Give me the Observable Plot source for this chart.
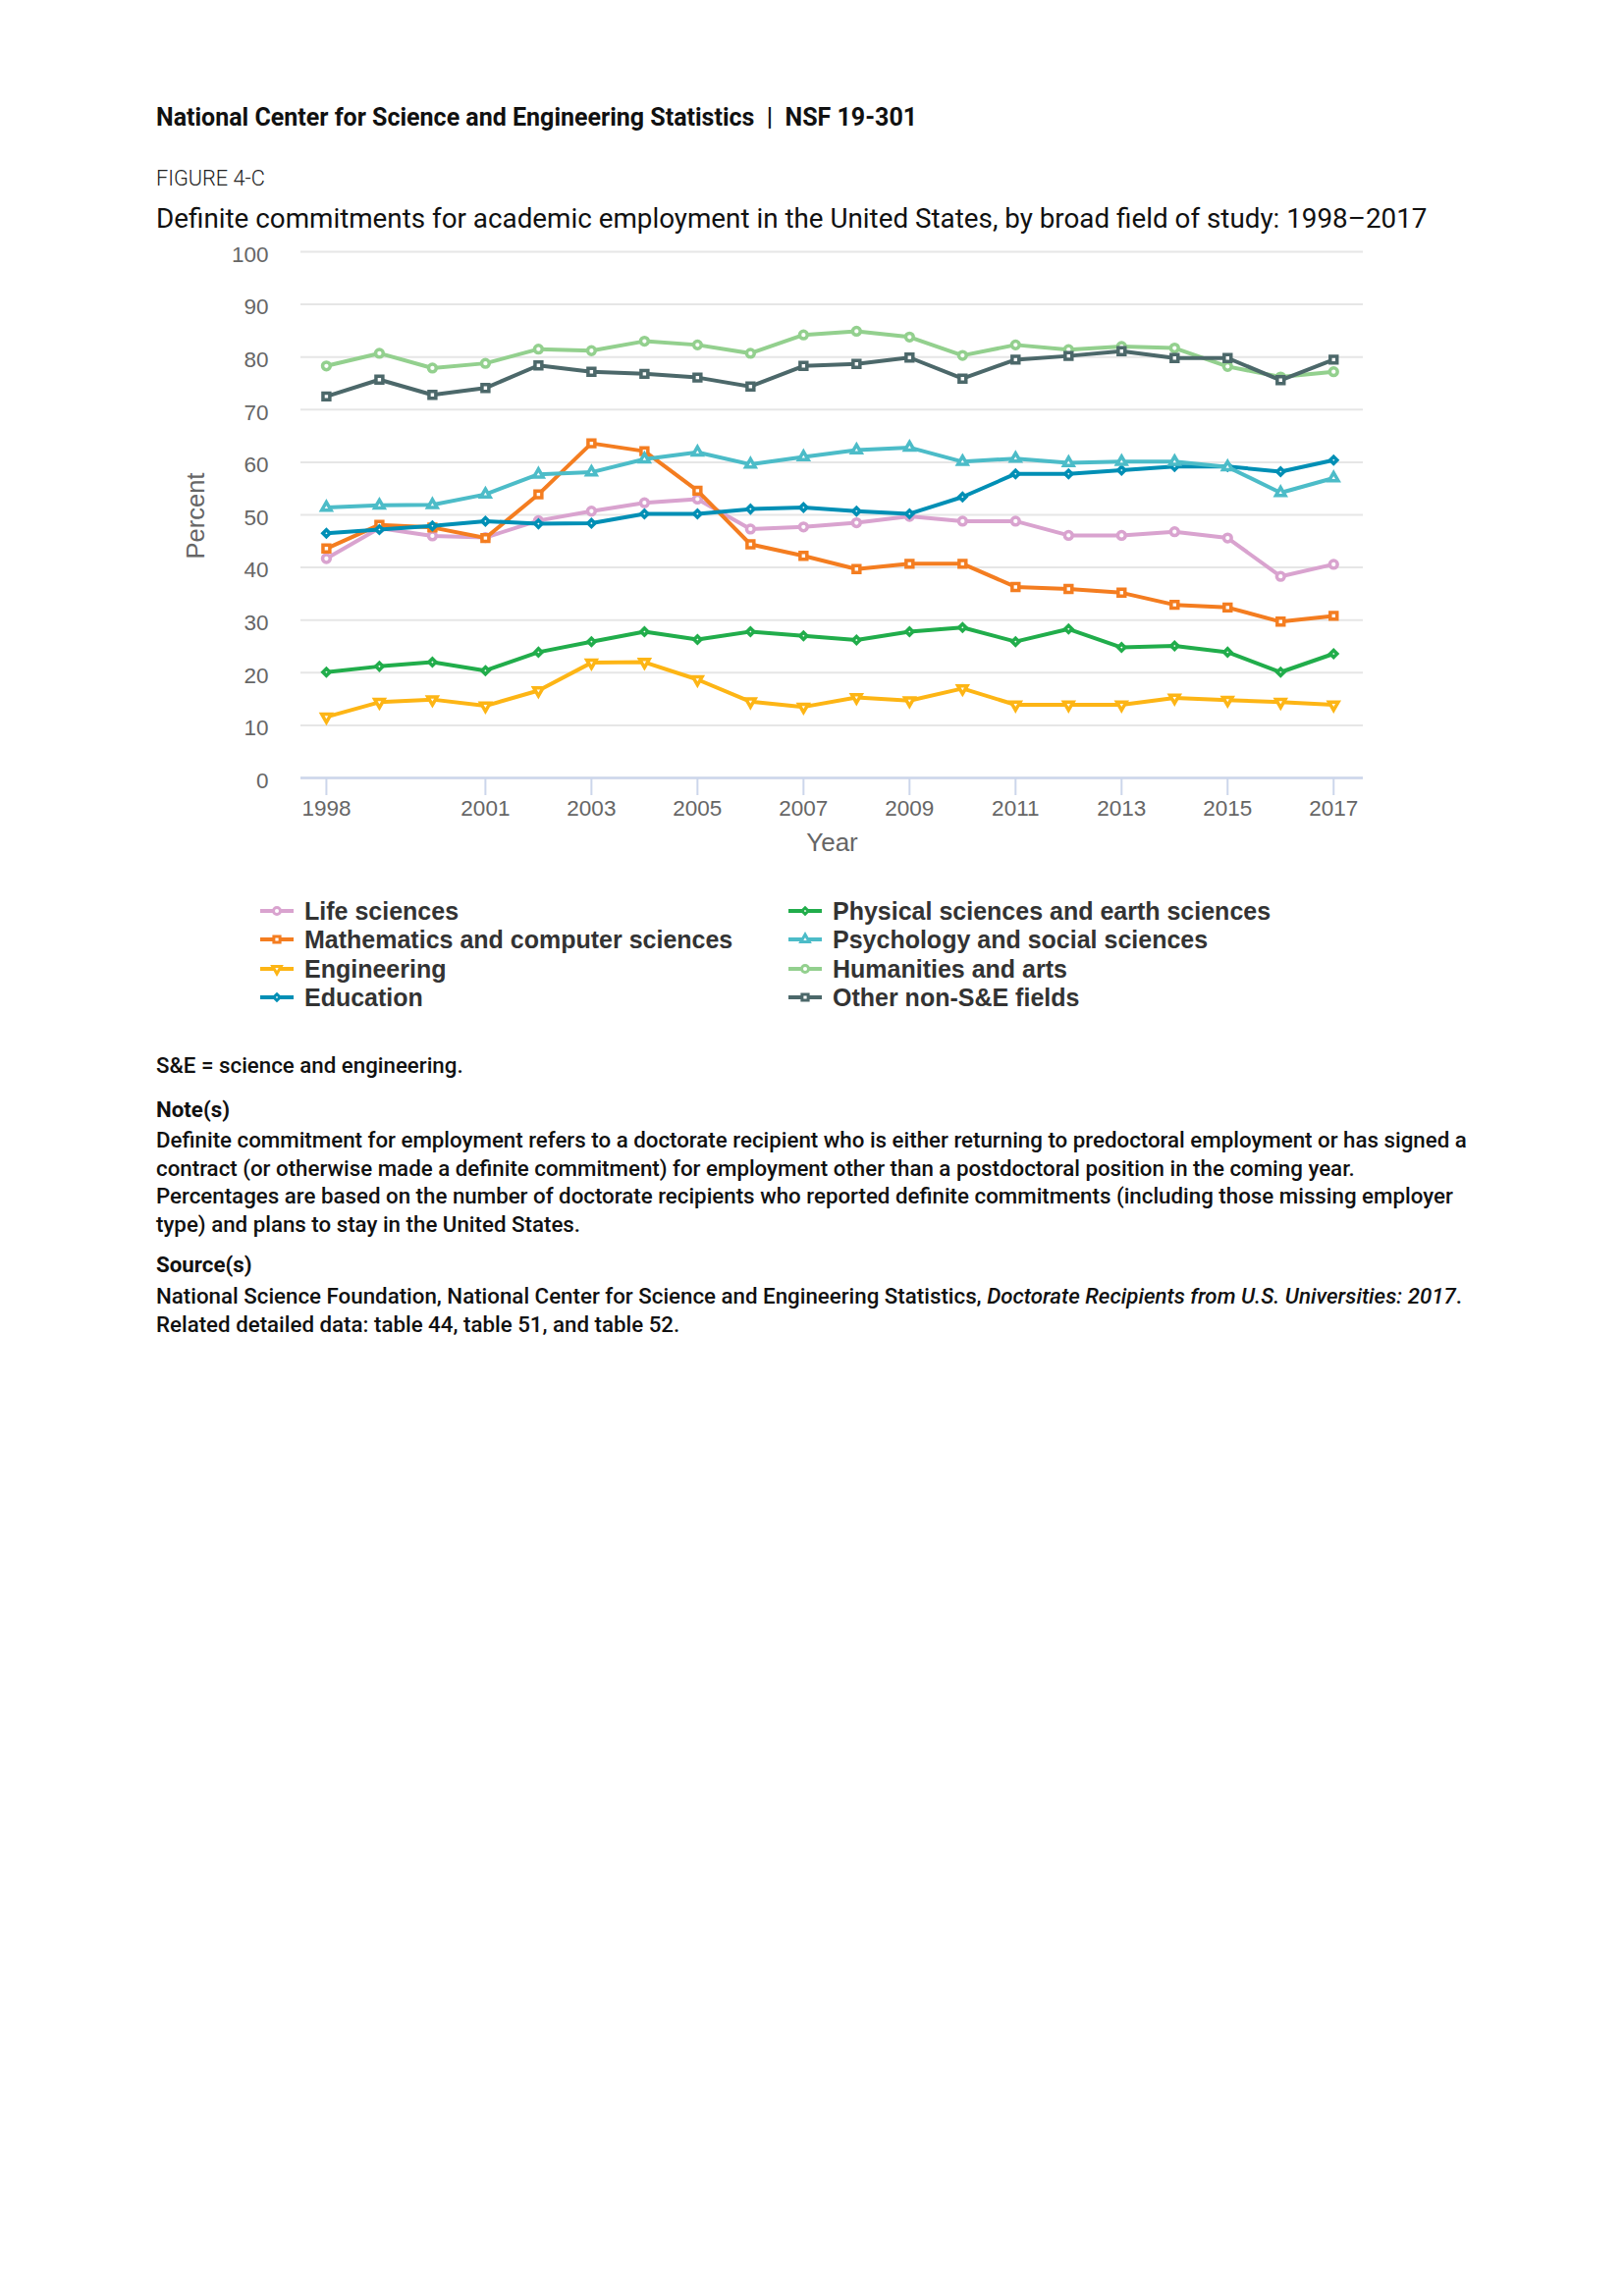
<!DOCTYPE html>
<html><head><meta charset="utf-8">
<script src="https://cdn.jsdelivr.net/npm/d3@7"></script>
<script src="https://cdn.jsdelivr.net/npm/@observablehq/plot@0.6"></script>
<style>
html,body{margin:0;padding:0;background:#fff}
body{width:1654px;height:2339px;position:relative;font-family:Roboto,"Noto Sans",sans-serif;color:#111}
.abs{position:absolute;white-space:nowrap}
#chart{position:absolute;left:0;top:230px}
.leg{position:absolute;height:30px;display:flex;align-items:center;font-family:"Liberation Sans",Arial,sans-serif;font-weight:700;font-size:25px;color:#333;white-space:nowrap}
.leg svg{margin-right:10px}
.fn{position:absolute;left:159px;white-space:nowrap;font-size:22.3px;font-weight:500;line-height:28.6px;color:#111}
</style></head><body>
<div class="abs" style="left:159px;top:105px;font-size:25px;line-height:30px;font-weight:700">National Center for Science and Engineering Statistics&nbsp; |&nbsp; NSF 19-301</div>
<div class="abs" style="left:159px;top:168px;font-size:21.7px;line-height:28px;font-weight:300;color:#222">FIGURE 4-C</div>
<div class="abs" style="left:159px;top:206px;font-size:27.8px;line-height:34px;font-weight:400;color:#111">Definite commitments for academic employment in the United States, by broad field of study: 1998–2017</div>
<div id="chart"></div>
<div id="legend"></div>
<div class="fn" style="top:1071px">S&amp;E = science and engineering.</div>
<div class="fn" style="top:1116px;font-weight:700">Note(s)</div>
<div class="fn" style="top:1147px">Definite commitment for employment refers to a doctorate recipient who is either returning to predoctoral employment or has signed a<br>contract (or otherwise made a definite commitment) for employment other than a postdoctoral position in the coming year.<br>Percentages are based on the number of doctorate recipients who reported definite commitments (including those missing employer<br>type) and plans to stay in the United States.</div>
<div class="fn" style="top:1274px;font-weight:700">Source(s)</div>
<div class="fn" style="top:1306px">National Science Foundation, National Center for Science and Engineering Statistics, <i>Doctorate Recipients from U.S. Universities: 2017</i>.<br>Related detailed data: table 44, table 51, and table 52.</div>
<script>
const years = [1998,1999,2000,2001,2002,2003,2004,2005,2006,2007,2008,2009,2010,2011,2012,2013,2014,2015,2016,2017];
const seriesNames = ["Life sciences","Mathematics and computer sciences","Engineering","Education","Physical sciences and earth sciences","Psychology and social sciences","Humanities and arts","Other non-S&E fields"];
const lifeSciences = [41.7,47.5,46.0,45.7,48.9,50.7,52.3,53.0,47.3,47.7,48.5,49.7,48.8,48.8,46.1,46.1,46.8,45.6,38.3,40.6];
const mathComputer = [43.6,48.1,47.6,45.6,53.9,63.6,62.1,54.6,44.4,42.2,39.7,40.7,40.7,36.3,35.9,35.2,32.9,32.4,29.7,30.8];
const engineering = [11.6,14.4,14.9,13.7,16.6,21.9,22.0,18.7,14.5,13.5,15.3,14.7,17.0,13.9,13.9,13.9,15.2,14.8,14.4,13.9];
const education = [46.5,47.2,47.9,48.8,48.3,48.4,50.2,50.2,51.1,51.4,50.7,50.2,53.4,57.8,57.8,58.5,59.2,59.2,58.2,60.4];
const physicalEarth = [20.1,21.2,22.0,20.4,23.9,25.9,27.8,26.3,27.8,27.0,26.2,27.8,28.6,25.9,28.3,24.8,25.1,23.9,20.1,23.6];
const psychSocial = [51.4,51.8,51.9,53.9,57.7,58.1,60.6,61.9,59.6,61.0,62.3,62.8,60.1,60.7,59.9,60.1,60.1,59.1,54.2,57.0];
const humanitiesArts = [78.3,80.7,77.9,78.8,81.5,81.2,83.0,82.3,80.7,84.2,84.9,83.8,80.3,82.3,81.4,82.0,81.7,78.2,76.2,77.2];
const otherNonSE = [72.5,75.7,72.8,74.1,78.4,77.2,76.8,76.1,74.4,78.3,78.7,79.9,75.9,79.5,80.2,81.1,79.8,79.8,75.6,79.5];
const yTicks = [0,10,20,30,40,50,60,70,80,90,100];
const xTicks = [1998,2001,2003,2005,2007,2009,2011,2013,2015,2017];

const seriesValues = [lifeSciences, mathComputer, engineering, education, physicalEarth, psychSocial, humanitiesArts, otherNonSE];
const colors = ["#d9a3cf","#f47d20","#fdb515","#008fb5","#21ad4b","#4cbcc8","#93d08e","#4c686a"];

const triangleDown = {
  draw(context, size) {
    const y = -Math.sqrt(size / (Math.sqrt(3) * 3));
    context.moveTo(0, -y * 2);
    context.lineTo(-Math.sqrt(3) * y, y);
    context.lineTo(Math.sqrt(3) * y, y);
    context.closePath();
  }
};
const symbols = ["circle","square",triangleDown,"diamond2","diamond2","triangle","circle","square"];
const radii = [3.9,3.9,3.5,3.2,3.2,3.5,3.9,3.9];

const table = [];
seriesNames.forEach((name, i) => years.forEach((yr, j) => table.push({series: name, year: yr, value: seriesValues[i][j]})));

const marks = [
  Plot.gridY(yTicks, {stroke: "#e6e6e6", strokeOpacity: 1, strokeWidth: 2}),
  Plot.axisY(yTicks, {tickSize: 0, tickPadding: 33, fontSize: 22.5, fill: "#666", label: null, dy: 3}),
  Plot.ruleY([0], {stroke: "#ccd6eb", strokeWidth: 2.5}),
  Plot.axisX(xTicks, {tickSize: 18, stroke: "#ccd6eb", strokeWidth: 2, tickPadding: 5, fontSize: 22.5, fill: "#666", tickFormat: d => String(d), label: null}),
  Plot.text(["Year"], {frameAnchor: "bottom", dy: 74, fontSize: 26, fill: "#666"}),
  Plot.text(["Percent"], {frameAnchor: "left", textAnchor: "middle", dx: -107, dy: 1, rotate: -90, fontSize: 25.5, fill: "#666"})
];
seriesNames.forEach((name, i) => {
  const d = table.filter(r => r.series === name);
  marks.push(Plot.line(d, {x: "year", y: "value", stroke: colors[i], strokeWidth: 4, strokeLinejoin: "round"}));
  marks.push(Plot.dot(d, {x: "year", y: "value", symbol: symbols[i], r: radii[i], stroke: colors[i], strokeWidth: 3.5, fill: "white"}));
});

const chart = Plot.plot({
  width: 1654, height: 660,
  marginTop: 26, marginBottom: 98, marginLeft: 306, marginRight: 266,
  x: {domain: [1997.52, 2017.56]},
  y: {domain: [0, 100]},
  style: {fontFamily: "'Liberation Sans', Arial, sans-serif", background: "none", overflow: "visible"},
  marks
});
document.getElementById("chart").appendChild(chart);

// legend
const legendPos = [[265,928],[265,957],[265,987],[265,1016],[803,928],[803,957],[803,987],[803,1016]];
const d3Sym = {circle: d3.symbolCircle, square: d3.symbolSquare, diamond2: d3.symbolDiamond2, triangle: d3.symbolTriangle};
const leg = document.getElementById("legend");
seriesNames.forEach((name, i) => {
  const [lx, ly] = legendPos[i];
  const div = document.createElement("div");
  div.className = "leg";
  div.style.left = lx + "px";
  div.style.top = (ly - 15) + "px";
  const svg = d3.create("svg").attr("width", 35).attr("height", 20);
  svg.append("line").attr("x1", 0).attr("x2", 34).attr("y1", 10).attr("y2", 10).attr("stroke", colors[i]).attr("stroke-width", 4);
  const s = symbols[i];
  const type = typeof s === "string" ? d3Sym[s] : s;
  const r = radii[i] * 0.9;
  svg.append("path").attr("d", d3.symbol(type, Math.PI * r * r)()).attr("transform", "translate(17,10)")
    .attr("fill", "white").attr("stroke", colors[i]).attr("stroke-width", 3);
  div.appendChild(svg.node());
  const span = document.createElement("span");
  span.textContent = name;
  div.appendChild(span);
  leg.appendChild(div);
});
</script>
</body></html>
